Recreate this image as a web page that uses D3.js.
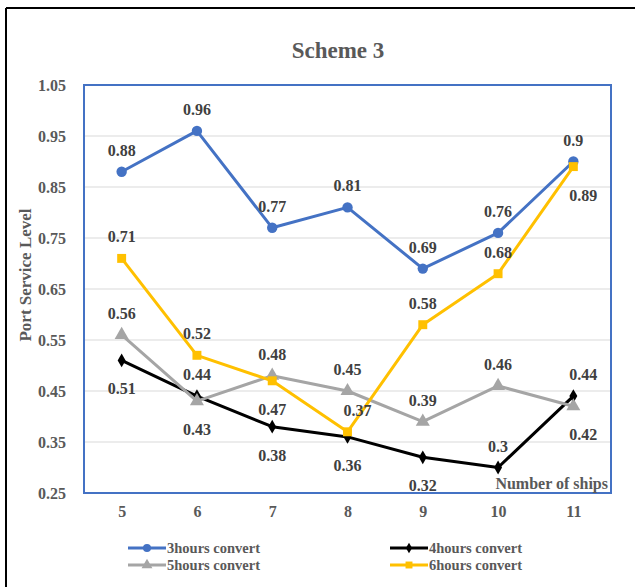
<!DOCTYPE html>
<html>
<head>
<meta charset="utf-8">
<script src="https://cdn.jsdelivr.net/npm/d3@7/dist/d3.min.js"></script>
<style>
body{margin:0;background:#fff;}
text{font-family:"Liberation Serif","Times New Roman",serif;font-weight:bold;}
</style>
</head>
<body>
<svg id="chart" width="635" height="587"></svg>
<script>
const categories = [5, 6, 7, 8, 9, 10, 11];
const yTicks = [0.25, 0.35, 0.45, 0.55, 0.65, 0.75, 0.85, 0.95, 1.05];
const s3 = [0.88, 0.96, 0.77, 0.81, 0.69, 0.76, 0.9];
const s4 = [0.51, 0.44, 0.38, 0.36, 0.32, 0.30, 0.44];
const s5 = [0.56, 0.43, 0.48, 0.45, 0.39, 0.46, 0.42];
const s6 = [0.71, 0.52, 0.47, 0.37, 0.58, 0.68, 0.89];
// label placement: 1 = above, -1 = below
const pos3 = [1, 1, 1, 1, 1, 1, 1];
const pos4 = [-1, 1, -1, -1, -1, 1, 1];
const pos5 = [1, -1, 1, 1, 1, 1, -1];
const pos6 = [1, 1, -1, 1, 1, 1, -1];
// label horizontal nudge (0 = centred, 1 = shifted right)
const nudge3 = [0, 0, 0, 0, 0, 0, 0];
const nudge4 = [0, 0, 0, 0, 0, 0, 1];
const nudge5 = [0, 0, 0, 0, 0, 0, 1];
const nudge6 = [0, 0, 0, 1, 0, 0, 1];

const series = [
  {name: "3hours convert", values: s3, pos: pos3, nudge: nudge3, color: "#4472C4", marker: "circle"},
  {name: "4hours convert", values: s4, pos: pos4, nudge: nudge4, color: "#000000", marker: "diamond"},
  {name: "5hours convert", values: s5, pos: pos5, nudge: nudge5, color: "#A5A5A5", marker: "triangle"},
  {name: "6hours convert", values: s6, pos: pos6, nudge: nudge6, color: "#FFC000", marker: "square"}
];

const svg = d3.select("#chart");
const L = 84, R = 611, T = 85, B = 493;

// outer frame (top and left)
svg.append("line").attr("x1", 6).attr("x2", 635).attr("y1", 8).attr("y2", 8).attr("stroke", "#000").attr("stroke-width", 2);
svg.append("line").attr("x1", 6).attr("x2", 6).attr("y1", 8).attr("y2", 587).attr("stroke", "#000").attr("stroke-width", 2);

const x = d3.scalePoint().domain(categories).range([L, R]).padding(0.5);
const y = d3.scaleLinear().domain([0.25, 1.05]).range([B, T]);

// gridlines
svg.append("g").selectAll("line").data(yTicks.slice(1, -1)).join("line")
  .attr("x1", L).attr("x2", R).attr("y1", d => y(d)).attr("y2", d => y(d))
  .attr("stroke", "#D9D9D9").attr("stroke-width", 1);

// axes (tick labels)
const yAxis = d3.axisLeft(y).tickValues(yTicks).tickFormat(d3.format(".2f")).tickSize(0).tickPadding(18);
const gy = svg.append("g").attr("transform", `translate(${L},0)`).call(yAxis);
gy.select(".domain").remove();
gy.selectAll("text").attr("fill", "#595959").style("font-size", "16px");

const xAxis = d3.axisBottom(x).tickSize(0).tickPadding(13);
const gx = svg.append("g").attr("transform", `translate(0,${B})`).call(xAxis);
gx.select(".domain").remove();
gx.selectAll("text").attr("fill", "#595959").style("font-size", "16px");

// plot border
svg.append("rect").attr("x", L).attr("y", T).attr("width", R - L).attr("height", B - T)
  .attr("fill", "none").attr("stroke", "#4472C4").attr("stroke-width", 2);

// title
svg.append("text").attr("x", 338).attr("y", 58).attr("text-anchor", "middle")
  .attr("fill", "#595959").style("font-size", "23px").text("Scheme 3");

// y label
svg.append("text").attr("transform", `translate(31,${(T + B) / 2 - 14}) rotate(-90)`)
  .attr("text-anchor", "middle").attr("fill", "#595959").style("font-size", "17px").text("Port Service Level");

// x label
svg.append("text").attr("x", R - 3).attr("y", B - 4).attr("text-anchor", "end")
  .attr("fill", "#595959").style("font-size", "16px").text("Number of ships");

const symType = {circle: d3.symbolCircle, diamond: d3.symbolDiamond, triangle: d3.symbolTriangle, square: d3.symbolSquare};
const symSize = {circle: 85, diamond: 55, triangle: 85, square: 80};

const line = d3.line().x((d, i) => x(categories[i])).y(d => y(d));

series.forEach(s => {
  const g = svg.append("g");
  g.append("path").datum(s.values).attr("d", line).attr("fill", "none")
    .attr("stroke", s.color).attr("stroke-width", 3).attr("stroke-linejoin", "round");
  g.selectAll("path.m").data(s.values).join("path").attr("class", "m")
    .attr("transform", (d, i) => `translate(${x(categories[i])},${y(d)})`)
    .attr("d", d3.symbol().type(symType[s.marker]).size(symSize[s.marker]))
    .attr("fill", s.color);
});

// data labels
series.forEach(s => {
  svg.append("g").selectAll("text").data(s.values).join("text")
    .attr("x", (d, i) => x(categories[i]) + s.nudge[i] * 10)
    .attr("y", (d, i) => y(d) + (s.pos[i] > 0 ? -16 : 34))
    .attr("text-anchor", "middle").attr("fill", "#404040").style("font-size", "16px")
    .text(d => String(d));
});

// legend
const legend = [
  {s: series[0], lx: 128, ly: 548},
  {s: series[1], lx: 390, ly: 548},
  {s: series[2], lx: 128, ly: 565},
  {s: series[3], lx: 390, ly: 565}
];
legend.forEach(e => {
  const g = svg.append("g");
  g.append("line").attr("x1", e.lx).attr("x2", e.lx + 38).attr("y1", e.ly).attr("y2", e.ly)
    .attr("stroke", e.s.color).attr("stroke-width", 3);
  g.append("path").attr("transform", `translate(${e.lx + 19},${e.ly})`)
    .attr("d", d3.symbol().type(symType[e.s.marker]).size(symSize[e.s.marker] * 0.6))
    .attr("fill", e.s.color);
  g.append("text").attr("x", e.lx + 39).attr("y", e.ly + 5).attr("fill", "#595959")
    .style("font-size", "14.5px").text(e.s.name);
});
</script>
</body>
</html>
